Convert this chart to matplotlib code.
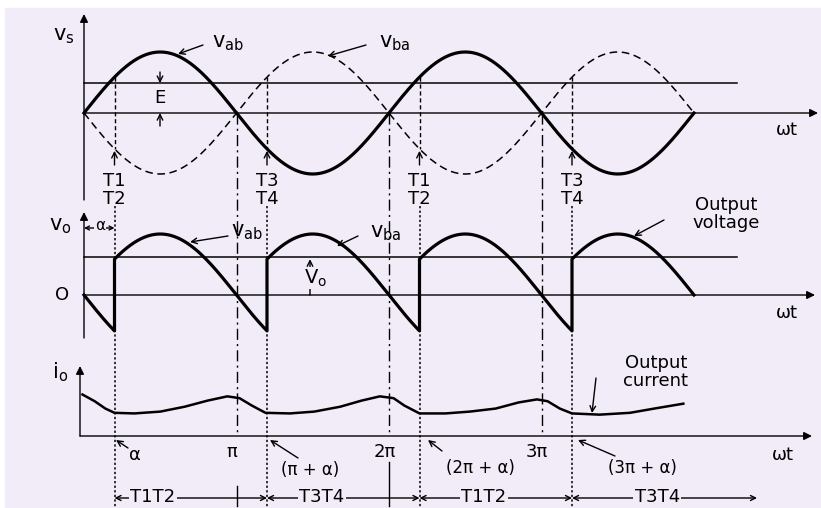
import numpy as np
from matplotlib import pyplot as plt
from matplotlib.patches import Rectangle

plt.rcParams['mathtext.fontset'] = 'dejavusans'

# waveform parameters (angles in units of pi, levels / peak of v_s)
alpha = 0.2
E_level = 0.49
Vo_level = 0.62
n_half = 4

# output current, read point by point (wt / pi , i_o / peak of v_s)
wt_io = [-0.01, 0.07, 0.14, 0.20, 0.33, 0.50, 0.66, 0.81, 0.94, 1.02, 1.10, 1.19,
         1.35, 1.51, 1.68, 1.82, 1.94, 2.03, 2.10, 2.20, 2.37, 2.53, 2.70, 2.85,
         2.97, 3.04, 3.12, 3.20, 3.38, 3.58, 3.74, 3.93]
io = [0.68, 0.57, 0.45, 0.38, 0.37, 0.40, 0.48, 0.58, 0.65, 0.62, 0.50, 0.38,
      0.37, 0.40, 0.48, 0.58, 0.65, 0.62, 0.50, 0.37, 0.37, 0.40, 0.45, 0.55,
      0.60, 0.57, 0.45, 0.37, 0.35, 0.38, 0.45, 0.53]

fire_labels = ['T1\nT2', 'T3\nT4', 'T1\nT2', 'T3\nT4']
period_labels = ['T1T2', 'T3T4', 'T1T2', 'T3T4']
pi_labels = ['π', '2π', '3π']
fire_angle_labels = ['α', '(π + α)', '(2π + α)', '(3π + α)']

# layout: one axes over the whole figure, x in wt/pi, y in pixel rows
X0 = 84.
PX_PI = 152.5
zero = [113., 295., 436.]
SC = 61.

def row(p, v):
    return zero[p] - SC * np.asarray(v)

bg = '#f1ecf8'
fig = plt.figure(figsize=(8.21, 5.08), dpi=100)
ax = fig.add_axes([0, 0, 1, 1])
ax.set_facecolor('none')
ax.set_xlim(-X0 / PX_PI, (821 - X0) / PX_PI)
ax.set_ylim(508, 0)
ax.axis('off')
ax.add_patch(Rectangle((0.006, 0), 1, 0.984, transform=ax.transAxes,
                       color=bg, zorder=-10))

k_ = 'k'
fs = 13
arr = dict(arrowstyle='->', lw=1.0, color=k_, shrinkA=0, shrinkB=0)

def arrow(x0, y0, x1, y1, style='->', ms=10):
    a = dict(arr)
    a['arrowstyle'] = style
    a['mutation_scale'] = ms
    ax.annotate('', xy=(x1, y1), xytext=(x0, y0), arrowprops=a)

def px(x):
    return (x - X0) / PX_PI

x_end = px(737)

# ---------- supply voltage panel
th = np.linspace(0, n_half, 800)
vab = np.sin(np.pi * th)
ax.plot(th, row(0, vab), color=k_, lw=2.3)
ax.plot(th, row(0, -vab), color=k_, lw=1.1, ls=(0, (5, 3)))
ax.plot([0, x_end], row(0, [E_level, E_level]), color=k_, lw=1.1)
arrow(0, zero[0], px(818), zero[0], '-|>', 12)
arrow(0, 200, 0, 14, '-|>', 12)

s = np.sin(np.pi * alpha)
for k in range(n_half):
    x = alpha + k
    ax.plot([x, x], row(0, [s, -s]), color=k_, lw=1.0, ls=(0, (3, 2)))
    arrow(x, 165, x, row(0, -s) + 2)
    ax.text(x, 190, fire_labels[k], ha='center', va='center', fontsize=fs,
            linespacing=0.95)
    ax.plot([x, x], [206, 508], color=k_, lw=1.1, ls=(0, (1.5, 1.5)))

for k, lab in enumerate(pi_labels):
    x = k + 1
    ax.plot([x, x], [zero[0], 432], color=k_, lw=1.0, ls=(0, (8, 3, 1.5, 3)))

ax.plot([1, 1], [486, 506], color=k_, lw=1.0)
ax.plot([2, 2], [462, 506], color=k_, lw=1.0)

ax.text(px(64), 36, r'$\mathsf{v_s}$', ha='center', va='center', fontsize=fs + 2)
ax.text(px(228), 43, r'$\mathsf{v_{ab}}$', ha='center', va='center', fontsize=fs + 2)
arrow(px(203), 45, px(178), 54)
ax.text(px(395), 43, r'$\mathsf{v_{ba}}$', ha='center', va='center', fontsize=fs + 2)
arrow(px(366), 45, px(328), 56)
ax.text(px(160), 98, 'E', ha='center', va='center', fontsize=fs)
arrow(px(160), 72, px(160), row(0, E_level))
arrow(px(160), 126, px(160), zero[0])
ax.text(px(787), 130, 'ωt', ha='center', va='center', fontsize=fs)

# ---------- output voltage panel
seg_x = [np.linspace(0, alpha, 40)]
seg_v = [-np.sin(np.pi * seg_x[0])]
for k in range(n_half):
    t = np.linspace(alpha + k, min(alpha + k + 1, n_half), 200)
    seg_x.append(t)
    seg_v.append(np.sin(np.pi * (t - k)))
ax.plot(np.concatenate(seg_x), row(1, np.concatenate(seg_v)), color=k_, lw=2.3)
ax.plot([0, x_end], row(1, [Vo_level, Vo_level]), color=k_, lw=1.1)
arrow(0, zero[1], px(815), zero[1], '-|>', 12)
arrow(0, 338, 0, 212, '-|>', 12)

ax.text(px(60), 226, r'$\mathsf{v_o}$', ha='center', va='center', fontsize=fs + 2)
arrow(0, 228, alpha, 228, '<->', 7)
ax.text(px(100), 226, 'α', ha='center', va='center', fontsize=fs - 2,
        bbox=dict(facecolor=bg, edgecolor='none', pad=0.5))
ax.text(px(62), 295, 'O', ha='center', va='center', fontsize=fs)
ax.text(px(247), 232, r'$\mathsf{v_{ab}}$', ha='center', va='center', fontsize=fs + 2)
arrow(px(228), 236, px(190), 242)
ax.text(px(386), 233, r'$\mathsf{v_{ba}}$', ha='center', va='center', fontsize=fs + 2)
arrow(px(358), 236, px(337), 246)
arrow(px(310), zero[1], px(310), row(1, Vo_level) + 2)
ax.text(px(316), 278, r'$\mathsf{V_o}$', ha='center', va='center', fontsize=fs + 1,
        bbox=dict(facecolor=bg, edgecolor='none', pad=0.5))
ax.text(px(726), 214, 'Output\nvoltage', ha='center', va='center', fontsize=fs,
        linespacing=1.0)
arrow(px(664), 220, px(634), 236)
ax.text(px(787), 313, 'ωt', ha='center', va='center', fontsize=fs)

# ---------- output current panel
ax.plot(wt_io, row(2, io), color=k_, lw=1.8)
arrow(px(80), zero[2], px(812), zero[2], '-|>', 12)
arrow(px(80), zero[2], px(80), 366, '-|>', 12)
ax.text(px(60), 372, r'$\mathsf{i_o}$', ha='center', va='center', fontsize=fs + 2)
ax.text(px(656), 372, 'Output\ncurrent', ha='center', va='center', fontsize=fs,
        linespacing=1.0)
arrow(px(596), 378, px(592), 413)

ax.text(px(135), 455, fire_angle_labels[0], ha='center', va='center', fontsize=fs)
arrow(px(128), 448, px(116), 440)
ax.text(px(310), 470, fire_angle_labels[1], ha='center', va='center', fontsize=fs - 1)
arrow(px(298), 458, px(270), 440)
ax.text(px(480), 468, fire_angle_labels[2], ha='center', va='center', fontsize=fs - 1)
arrow(px(442), 451, px(428), 440)
ax.text(px(642), 468, fire_angle_labels[3], ha='center', va='center', fontsize=fs - 1)
arrow(px(615), 456, px(578), 440)
for k, lab in enumerate(pi_labels):
    ax.text(k + 1 - 0.03, 452, lab, ha='center', va='center', fontsize=fs)
ax.text(px(783), 455, 'ωt', ha='center', va='center', fontsize=fs)

ends = [alpha + 1, alpha + 2, alpha + 3, px(757)]
offs = [0.25, 0.36, 0.42, 0.56]
for k in range(n_half):
    arrow(alpha + k, 498, ends[k], 498, '<->', 9)
    ax.text(alpha + k + offs[k], 497, period_labels[k], ha='center', va='center',
            fontsize=fs, bbox=dict(facecolor=bg, edgecolor='none', pad=1.0))

fig.savefig('out.png', dpi=100, facecolor='white')
